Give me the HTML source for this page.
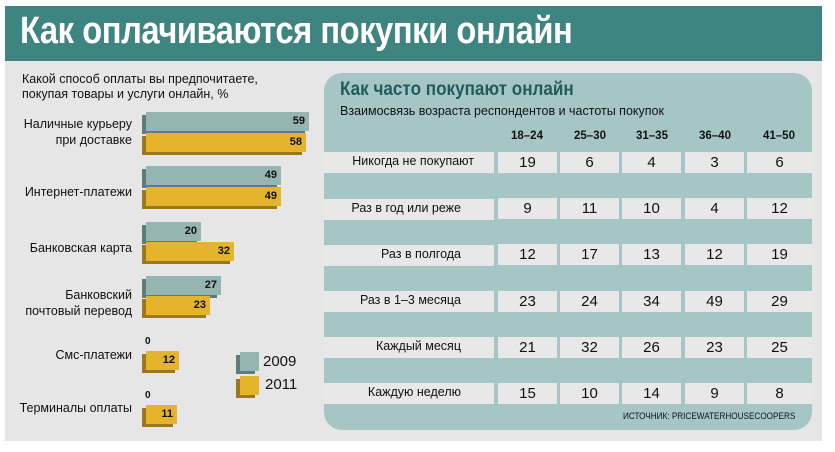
<!DOCTYPE html>
<html><head><meta charset="utf-8"><style>
*{margin:0;padding:0;box-sizing:border-box}
body{width:835px;height:452px;background:#fff;position:relative;overflow:hidden;font-family:"Liberation Sans",sans-serif;color:#111}
.a{position:absolute}
.hdr{left:5px;top:6px;width:817px;height:55px;background:#3e8480}
.title{left:20px;top:10px;color:#fff;font-weight:bold;font-size:38px;transform:scaleX(0.86);transform-origin:left top;white-space:nowrap;letter-spacing:-0.5px}
.bg{left:5px;top:61px;width:817px;height:380px;background:#e6e6e6}
.q{left:22px;top:72px;font-size:12.5px;line-height:15px}
.lab{width:132px;text-align:right;font-size:12.5px;line-height:16px;left:0}
.bar{height:19px;font-weight:bold;font-size:11px;text-align:right;padding-right:4px;line-height:19px}
.t{background:#94b5b2;box-shadow:-4px 3px 0 #5e7d7a}
.y{background:#e5b42d;box-shadow:-4px 3px 0 #9b7819}
.panel{left:324px;top:73px;width:488px;height:357px;background:#a6c6c5;border-radius:18px}
.rl{left:324px;width:170px;height:21px;background:#e8e8e8;text-align:right;padding-right:33px;font-size:12.5px;line-height:19px}
.c{height:21px;background:#e8e8e8;text-align:center;font-size:15px;line-height:22px}
.ag{font-weight:bold;font-size:11.5px;text-align:center;width:60px}
</style></head><body>
<div class="a hdr"></div>
<div class="a title">Как оплачиваются покупки онлайн</div>
<div class="a bg"></div>
<div class="a q">Какой способ оплаты вы предпочитаете,<br>покупая товары и услуги онлайн, %</div>

<div class="a lab" style="top:116px">Наличные курьеру<br>при доставке</div>
<div class="a bar t" style="left:146px;top:112px;width:163px">59</div>
<div class="a bar y" style="left:146px;top:133px;width:160px">58</div>

<div class="a lab" style="top:184px">Интернет-платежи</div>
<div class="a bar t" style="left:146px;top:166px;width:135px">49</div>
<div class="a bar y" style="left:146px;top:187px;width:135px">49</div>

<div class="a lab" style="top:240px">Банковская карта</div>
<div class="a bar t" style="left:146px;top:222px;width:55px">20</div>
<div class="a bar y" style="left:146px;top:242px;width:88px">32</div>

<div class="a lab" style="top:287px">Банковский<br>почтовый перевод</div>
<div class="a bar t" style="left:146px;top:276px;width:75px">27</div>
<div class="a bar y" style="left:146px;top:296px;width:64px">23</div>

<div class="a lab" style="top:347px">Смс-платежи</div>
<div class="a" style="left:145px;top:336px;font-weight:bold;font-size:10px">0</div>
<div class="a bar y" style="left:146px;top:351px;width:33px">12</div>

<div class="a lab" style="top:400px">Терминалы оплаты</div>
<div class="a" style="left:145px;top:390px;font-weight:bold;font-size:10px">0</div>
<div class="a bar y" style="left:146px;top:405px;width:31px">11</div>

<div class="a t" style="left:240px;top:352px;width:19px;height:19px"></div>
<div class="a y" style="left:240px;top:376px;width:19px;height:19px"></div>
<div class="a" style="left:263px;top:353px;font-size:15px">2009</div>
<div class="a" style="left:265px;top:376px;font-size:15px">2011</div>

<div class="a panel"></div>
<div class="a" style="left:340px;top:79px;font-weight:bold;font-size:19px;color:#1f5d5a;transform:scaleX(0.9);transform-origin:left top;white-space:nowrap">Как часто покупают онлайн</div>
<div class="a" style="left:340px;top:104px;font-size:12.5px">Взаимосвязь возраста респондентов и частоты покупок</div>
<div class="a ag" style="left:497px;top:130px">18–24</div>
<div class="a ag" style="left:560px;top:130px">25–30</div>
<div class="a ag" style="left:622px;top:130px">31–35</div>
<div class="a ag" style="left:685px;top:130px">36–40</div>
<div class="a ag" style="left:749px;top:130px">41–50</div>

<div class="a rl" style="top:152px;padding-right:20px">Никогда не покупают</div>
<div class="a rl" style="top:199px">Раз в год или реже</div>
<div class="a rl" style="top:245px">Раз в полгода</div>
<div class="a rl" style="top:291px">Раз в 1–3 месяца</div>
<div class="a rl" style="top:337px">Каждый месяц</div>
<div class="a rl" style="top:383px">Каждую неделю</div>

<div id="cells"></div>
<script>
var d=[[19,6,4,3,6],[9,11,10,4,12],[12,17,13,12,19],[23,24,34,49,29],[21,32,26,23,25],[15,10,14,9,8]];
var xs=[[498,59],[560,59],[622,59],[685,59],[747,65]];var h="";
d.forEach(function(r,i){r.forEach(function(v,j){h+='<div class="a c" style="left:'+xs[j][0]+'px;width:'+xs[j][1]+'px;top:'+(152+i*46.2)+'px">'+v+'</div>';});});
document.getElementById("cells").innerHTML=h;
</script>
<div class="a" style="left:623px;top:411px;font-size:9.5px;white-space:nowrap;transform:scaleX(0.86);transform-origin:left top">ИСТОЧНИК: PRICEWATERHOUSECOOPERS</div>
</body></html>
